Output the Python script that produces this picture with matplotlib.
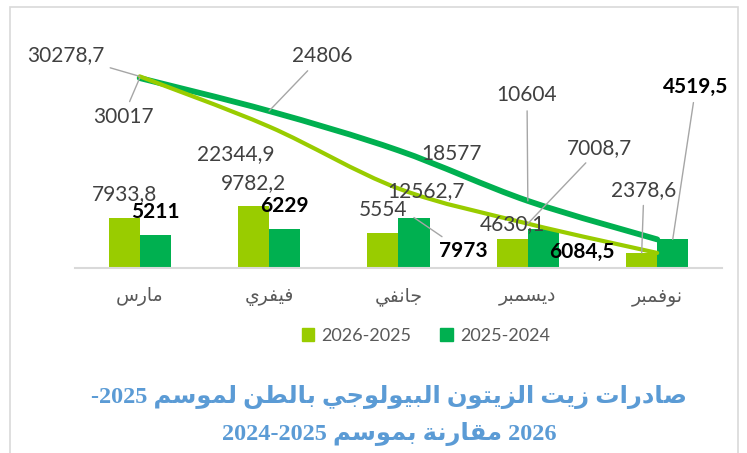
import matplotlib
matplotlib.use('Agg')
import matplotlib.pyplot as plt
from matplotlib.path import Path
from matplotlib.patches import PathPatch, Patch, Rectangle
import numpy as np

# Data
months = ['مارس', 'فيفري', 'جانفي', 'ديسمبر', 'نوفمبر']
monthly_2026 = [7933.8, 9782.2, 5554, 4630.1, 2378.6]
monthly_2025 = [5211, 6229, 7973, 6084.5, 4519.5]
cumul_2026 = [30278.7, 22344.9, 12562.7, 7008.7, 2378.6]
cumul_2025 = [30017, 24806, 18577, 10604, 4519.5]
legend_labels = ['2026-2025', '2025-2024']

light_green = '#99CC00'
dark_green = '#00B050'
label_gray = '#404040'
leader_gray = '#A6A6A6'

# matplotlib has no Arabic shaping, so pick the presentation forms by hand
FORMS = {
    'ا': (0xFE8D, 0xFE8E, None, None),
    'ب': (0xFE8F, 0xFE90, 0xFE91, 0xFE92),
    'ة': (0xFE93, 0xFE94, None, None),
    'ت': (0xFE95, 0xFE96, 0xFE97, 0xFE98),
    'ج': (0xFE9D, 0xFE9E, 0xFE9F, 0xFEA0),
    'د': (0xFEA9, 0xFEAA, None, None),
    'ر': (0xFEAD, 0xFEAE, None, None),
    'ز': (0xFEAF, 0xFEB0, None, None),
    'س': (0xFEB1, 0xFEB2, 0xFEB3, 0xFEB4),
    'ص': (0xFEB9, 0xFEBA, 0xFEBB, 0xFEBC),
    'ط': (0xFEC1, 0xFEC2, 0xFEC3, 0xFEC4),
    'ف': (0xFED1, 0xFED2, 0xFED3, 0xFED4),
    'ق': (0xFED5, 0xFED6, 0xFED7, 0xFED8),
    'ل': (0xFEDD, 0xFEDE, 0xFEDF, 0xFEE0),
    'م': (0xFEE1, 0xFEE2, 0xFEE3, 0xFEE4),
    'ن': (0xFEE5, 0xFEE6, 0xFEE7, 0xFEE8),
    'و': (0xFEED, 0xFEEE, None, None),
    'ي': (0xFEF1, 0xFEF2, 0xFEF3, 0xFEF4),
}


def shape(word):
    out = []
    for i, ch in enumerate(word):
        f = FORMS.get(ch)
        if f is None:
            out.append(ch)
            continue
        prev = word[i - 1] if i > 0 else ''
        nxt = word[i + 1] if i < len(word) - 1 else ''
        jp = prev in FORMS and FORMS[prev][2] is not None
        jn = nxt in FORMS and f[2] is not None
        if jp and jn:
            c = f[3]
        elif jp:
            c = f[1]
        elif jn:
            c = f[2]
        else:
            c = f[0]
        out.append(chr(c))
    # visual order is right to left
    return ''.join(reversed(out))


def smooth_path(ys):
    # Excel-like smoothed line: Catmull-Rom as cubic Bezier segments
    pts = np.column_stack([np.arange(len(ys)), ys]).astype(float)
    verts = [pts[0]]
    codes = [Path.MOVETO]
    n = len(pts)
    for i in range(n - 1):
        p0 = pts[max(i - 1, 0)]
        p1 = pts[i]
        p2 = pts[i + 1]
        p3 = pts[min(i + 2, n - 1)]
        verts += [p1 + (p2 - p0) / 6, p2 - (p3 - p1) / 6, p2]
        codes += [Path.CURVE4] * 3
    return Path(verts, codes)


fig = plt.figure(figsize=(7.47, 4.53), dpi=100)
ax = fig.add_axes([0.1004, 0.4084, 0.866, 0.4834])

x = np.arange(len(months))
w = 0.24
ax.bar(x - w / 2, monthly_2026, w, color=light_green, zorder=2)
ax.bar(x + w / 2, monthly_2025, w, color=dark_green, zorder=2)

ax.add_patch(PathPatch(smooth_path(cumul_2025), fill=False, edgecolor=dark_green,
                       lw=4.2, capstyle='round', joinstyle='round', zorder=3))
ax.add_patch(PathPatch(smooth_path(cumul_2026), fill=False, edgecolor=light_green,
                       lw=3.0, capstyle='round', joinstyle='round', zorder=4))

ax.set_xlim(-0.5, len(months) - 0.5)
ax.set_ylim(0, 34600)
ax.set_xticks(x)
ax.set_xticklabels([shape(m) for m in months], family='DejaVu Sans', fontsize=13.5, color='#595959')
ax.tick_params(axis='x', length=0, pad=14)
ax.set_yticks([])
for side in ['left', 'right', 'top']:
    ax.spines[side].set_visible(False)
ax.spines['bottom'].set_color('#D9D9D9')
ax.spines['bottom'].set_linewidth(1.5)

lab_font = dict(family=['Lato', 'DejaVu Sans'], fontsize=15, ha='center', va='center', zorder=5)
leader = dict(arrowstyle='-', color=leader_gray, lw=1, shrinkA=2, shrinkB=0)


def fmt(v):
    return ('%g' % v).replace('.', ',')


# label offsets in points (dx, dy) and whether a leader line is drawn
light_line_off = [(-53, 15.4, True), (-23.8, -19.7, False), (19.8, -1.8, False), (51.9, 54.4, True)]
dark_line_off = [(-12, -28, True), (38, 39.6, True), (38.5, -2.6, False), (-0.6, 76, True)]
light_bar_off = [(0.6, 17, False), (0, 16.6, False), (0, 16.4, False), (0, 10.6, False), (1.6, 45.4, True)]
dark_bar_off = [(0, 16.5, False), (0, 16.3, False), (35.3, -24.1, True), (27.8, -16.2, False), (16.6, 109.7, True)]

for i, (dx, dy, lead) in enumerate(light_line_off):
    ax.annotate(fmt(cumul_2026[i]), (x[i], cumul_2026[i]), xytext=(dx, dy), textcoords='offset points',
                color=label_gray, arrowprops=leader if lead else None, **lab_font)
for i, (dx, dy, lead) in enumerate(dark_line_off):
    ax.annotate(fmt(cumul_2025[i]), (x[i], cumul_2025[i]), xytext=(dx, dy), textcoords='offset points',
                color=label_gray, arrowprops=leader if lead else None, **lab_font)
for i, (dx, dy, lead) in enumerate(light_bar_off):
    ax.annotate(fmt(monthly_2026[i]), (x[i] - w / 2, monthly_2026[i]), xytext=(dx, dy), textcoords='offset points',
                color=label_gray, arrowprops=leader if lead else None, **lab_font)
for i, (dx, dy, lead) in enumerate(dark_bar_off):
    ax.annotate(fmt(monthly_2025[i]), (x[i] + w / 2, monthly_2025[i]), xytext=(dx, dy), textcoords='offset points',
                color='black', fontweight='bold', arrowprops=leader if lead else None, **lab_font)

# legend
handles = [Patch(color=light_green), Patch(color=dark_green)]
fig.legend(handles, legend_labels, loc='center', bbox_to_anchor=(426 / 747, 1 - 336 / 453), ncol=2,
           frameon=False, handlelength=0.7, handleheight=0.7, handletextpad=0.4, columnspacing=1.6,
           prop={'family': 'Lato', 'size': 13}, labelcolor='#595959')

# title (two lines, visual order)
line1 = '-2025 ' + ' '.join(shape(wd) for wd in reversed('صادرات زيت الزيتون البيولوجي بالطن لموسم'.split()))
line2 = '2024-2025 ' + shape('بموسم') + ' ' + shape('مقارنة') + ' 2026'
title_font = dict(family=['Liberation Serif', 'DejaVu Sans'], fontsize=17.5, fontweight='bold',
                  color='#5B9BD5', ha='center', va='center')
fig.text(389 / 747, 1 - 397 / 453, line1, **title_font)
fig.text(389 / 747, 1 - 434 / 453, line2, **title_font)

# chart area border
fig.patches.append(Rectangle((10 / 747, -0.1), 728 / 747, 1.1 - 7 / 453, transform=fig.transFigure,
                             fill=False, edgecolor='#D9D9D9', lw=1.2))

fig.savefig('out.png', dpi=100)
